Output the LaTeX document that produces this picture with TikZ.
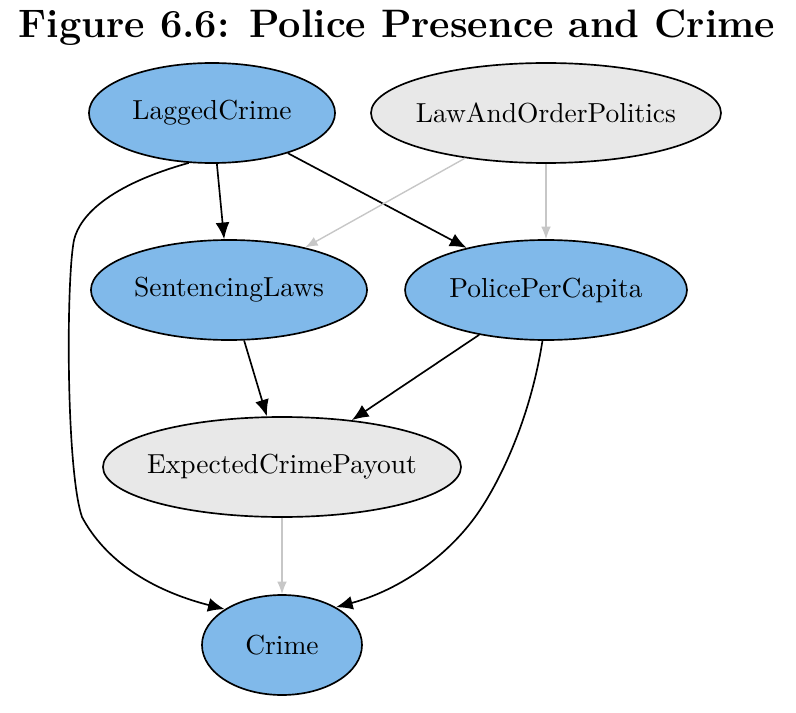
\documentclass[tikz,border=0pt]{standalone}
\usetikzlibrary{shapes.geometric,arrows.meta}
\definecolor{nblue}{HTML}{80B9EA}
\definecolor{ngray}{HTML}{E8E8E8}
\newcommand{\zbox}[1]{\makebox[0pt]{#1}}
\begin{document}
\begin{tikzpicture}[x=0.36pt,y=-0.36pt,
  n/.style={ellipse,draw=black,line width=0.6pt,inner sep=0pt,font=\fontsize{9.9}{12}\selectfont,minimum height=36pt},
  b/.style={n,fill=nblue},
  g/.style={n,fill=ngray},
  e/.style={-{Latex[length=6pt,width=5pt]},line width=0.6pt},
  ge/.style={-{Latex[length=4.5pt,width=3.5pt]},line width=0.5pt,draw=black!22,fill=black!55}]
\useasboundingbox (0,0) rectangle (796,713);
\node[font=\fontsize{14.3}{16}\selectfont\bfseries] (t) at (397,28) {Figure 6.6: Police Presence and Crime};
\node[b,minimum width=88.6pt] (lc) at (212,113) {\zbox{LaggedCrime}};
\node[g,minimum width=126pt] (lo) at (546,113) {\zbox{LawAndOrderPolitics}};
\node[b,minimum width=99.4pt] (sl) at (229,290) {\zbox{SentencingLaws}};
\node[b,minimum width=101.5pt] (pp) at (546,290) {\zbox{PolicePerCapita}};
\node[g,minimum width=128.9pt] (ec) at (282,467) {\zbox{ExpectedCrimePayout}};
\node[b,minimum width=57.6pt] (cr) at (282,645) {\zbox{Crime}};
\coordinate (a1) at (74,240);
\coordinate (a2) at (82,517);
\draw[e] (lc) -- (sl);
\draw[e] (lc) -- (pp);
\draw[ge] (lo) -- (sl);
\draw[ge] (lo) -- (pp);
\draw[e] (sl) -- (ec);
\draw[e] (pp) -- (ec);
\draw[ge] (ec) -- (cr);
\draw[e] (lc.245) .. controls (110,185) and (80,215) .. (a1) .. controls (66,280) and (66,470) .. (a2) .. controls (105,560) and (150,590) .. (cr.148);
\draw[e] (pp.266) .. controls (530,420) and (500,480) .. (480,510) .. controls (450,555) and (400,590) .. (cr.35);
\end{tikzpicture}
\end{document}
